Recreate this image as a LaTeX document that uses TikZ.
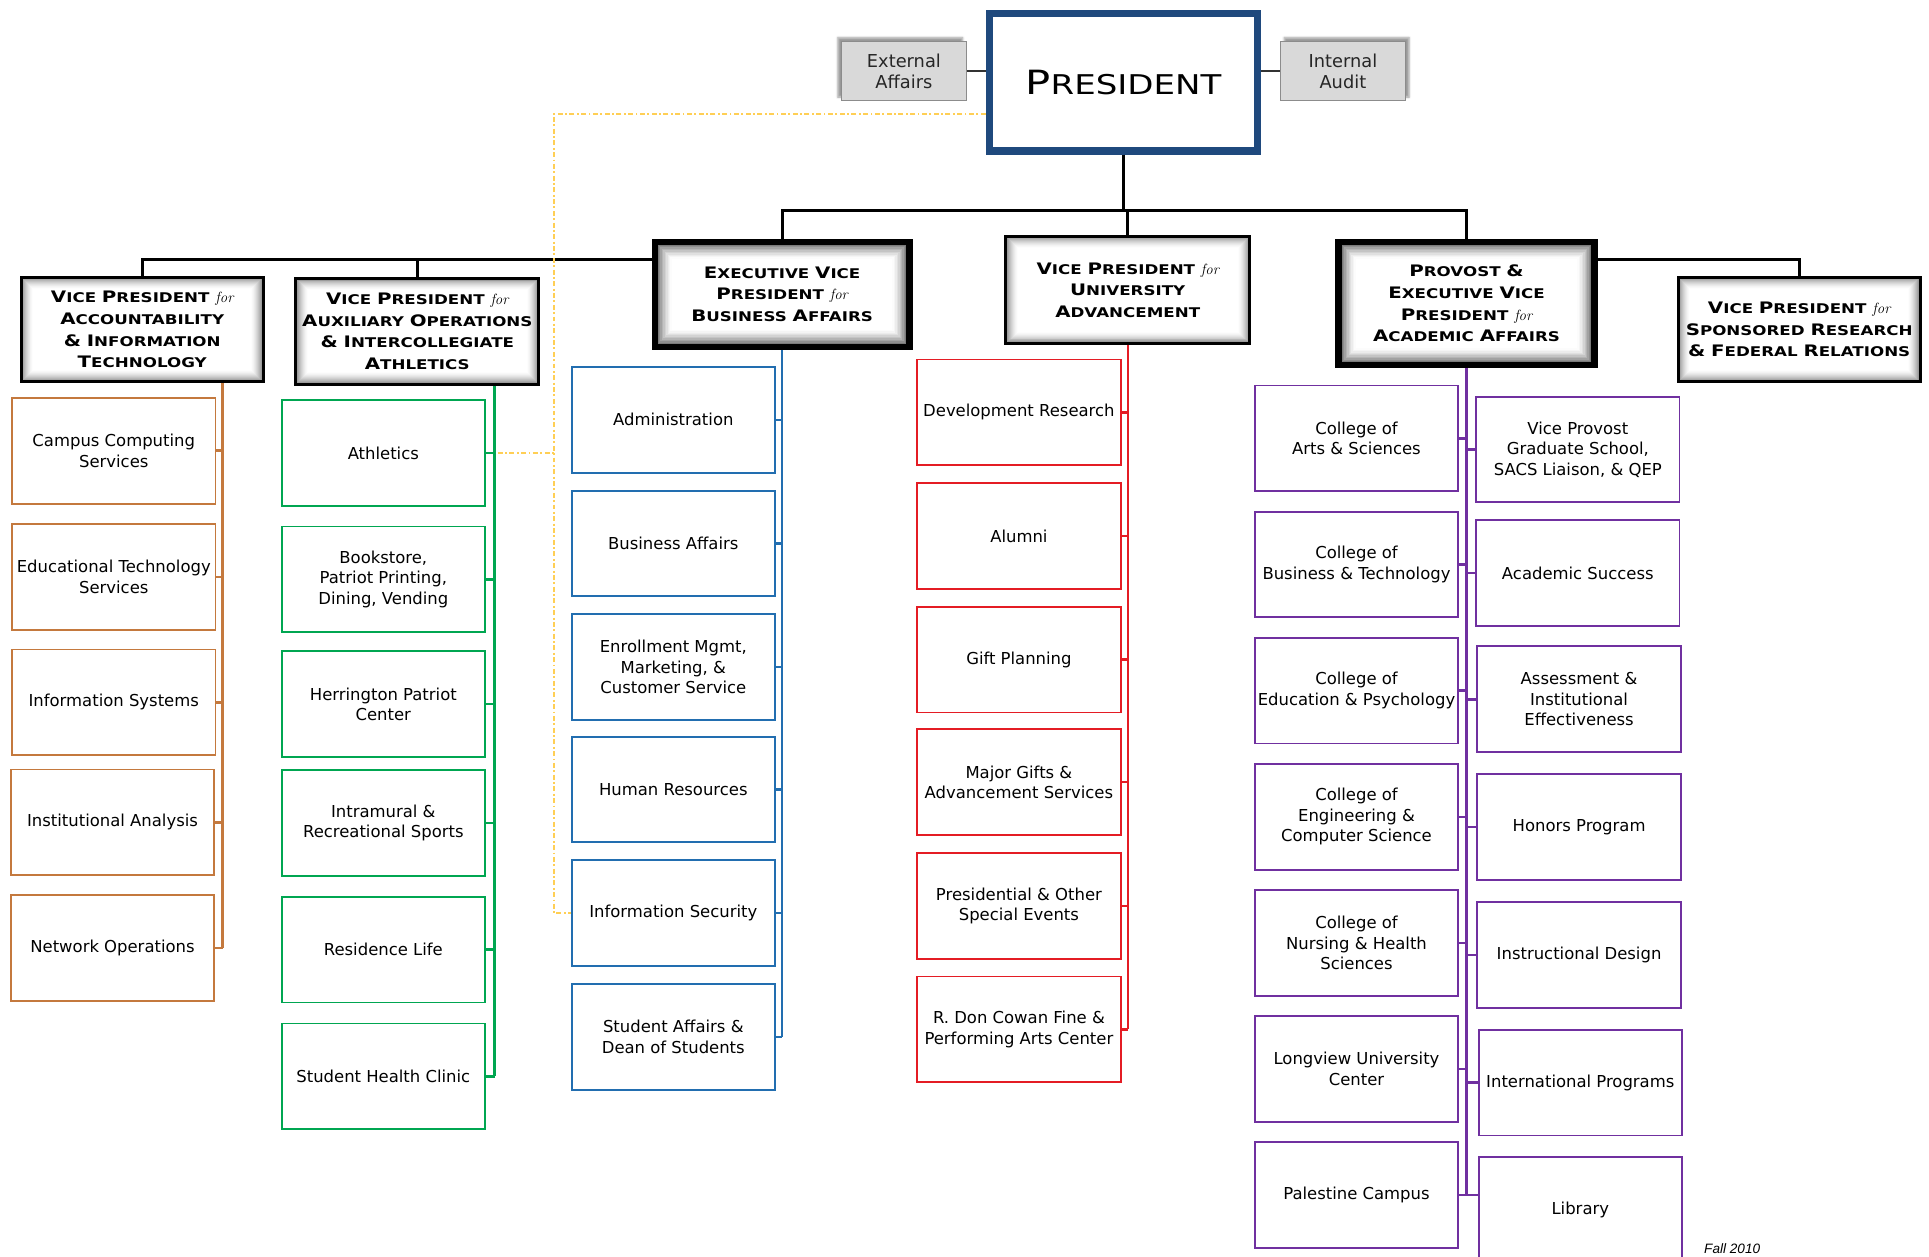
\documentclass[tikz,border=0pt]{standalone}
\usepackage{fontspec}
\usepackage{tikz}
\usetikzlibrary{shapes,positioning,shadows,shadows.blur}
\newfontfamily\boxfont{DejaVu Sans}
\newfontfamily\capfont[FakeStretch=1.25]{DejaVu Sans}
\newfontfamily\notefont{Liberation Sans}
\definecolor{presblue}{RGB}{31,73,125}
\definecolor{aitorange}{RGB}{196,121,62}
\definecolor{auxgreen}{RGB}{0,166,81}
\definecolor{bablue}{RGB}{34,110,176}
\definecolor{uared}{RGB}{228,28,36}
\definecolor{aapurple}{RGB}{112,48,160}
\definecolor{liaisongold}{RGB}{255,207,85}
\definecolor{sidegray}{RGB}{217,217,217}
\newcommand\bcap[1]{{\fontsize{12.8}{17.5}\selectfont #1}}
\newcommand\vpfor{{\rmfamily\mdseries\itshape\fontsize{12}{17.5}\selectfont for}}

\tikzset{
  bevel/.style 2 args={path picture={
      \foreach \k [evaluate=\k as \g using #1*(1-\k/12)^1.6] in {0,...,12}
        \fill[black!\g] ([shift={(\k*#2,\k*#2)}]path picture bounding box.south west)
          rectangle ([shift={(-\k*#2,-\k*#2)}]path picture bounding box.north east);}},
  title/.style={draw, line width=2.5pt, fill=white, align=center, inner sep=2pt,
      font=\capfont\bfseries\fontsize{10.8}{17.5}\selectfont, bevel={45}{0.8pt}},
  bigtitle/.style={title, line width=5pt, bevel={70}{1.15pt}},
  sidebox/.style={draw=black!45, fill=sidegray, line width=0.8pt, align=center,
      minimum width=101pt, minimum height=48pt, text=black!85,
      font=\boxfont\fontsize{14.4}{17}\selectfont},
  unit/.style={draw=#1, line width=1.5pt, fill=white, align=center, inner sep=1pt,
      minimum width=164.5pt, minimum height=85.5pt,
      font=\boxfont\fontsize{13.3}{16.5}\selectfont},
  branch/.style={draw=#1, line width=2pt},
  link/.style={draw=black, line width=2.5pt},
  sidelink/.style={draw=black!80, line width=1.2pt},
  liaison/.style={draw=liaisongold, line width=1.8pt, dash pattern=on 4pt off 2pt on 1.5pt off 2pt}
}

\begin{document}
\begin{tikzpicture}[x=1pt, y=-1pt]
\useasboundingbox (0,0) rectangle (1560,1016);

% top of the chart
\node[draw=presblue, line width=6pt, fill=white, minimum width=217pt, minimum height=111pt,
      font=\capfont\fontsize{22}{26}\selectfont] (president) at (908.5,66.5)
      {{\fontsize{27}{30}\selectfont P}RESIDENT};
\node[sidebox, blur shadow={shadow xshift=-3pt, shadow yshift=3pt}] (extaff) at (731,57.5) {External\\Affairs};
\node[sidebox, blur shadow={shadow xshift=3pt, shadow yshift=3pt}] (intaud) at (1086,57.5) {Internal\\Audit};

% vice presidents
\node[title, minimum width=195.5pt, minimum height=84.5pt] (vpait) at (115,266.5)
  {\bcap{V}ICE \bcap{P}RESIDENT \vpfor\\ \bcap{A}CCOUNTABILITY\\ \bcap{\&} \bcap{I}NFORMATION\\ \bcap{T}ECHNOLOGY};
\node[title, minimum width=196.5pt, minimum height=85.5pt] (vpaux) at (337.5,268)
  {\bcap{V}ICE \bcap{P}RESIDENT \vpfor\\ \bcap{A}UXILIARY \bcap{O}PERATIONS\\ \bcap{\&} \bcap{I}NTERCOLLEGIATE\\ \bcap{A}THLETICS};
\node[bigtitle, minimum width=206pt, minimum height=85pt] (evpba) at (632.5,238)
  {\bcap{E}XECUTIVE \bcap{V}ICE\\ \bcap{P}RESIDENT \vpfor\\ \bcap{B}USINESS \bcap{A}FFAIRS};
\node[title, minimum width=197.5pt, minimum height=86.5pt] (vpua) at (912,234.5)
  {\bcap{V}ICE \bcap{P}RESIDENT \vpfor\\ \bcap{U}NIVERSITY\\ \bcap{A}DVANCEMENT};
\node[bigtitle, minimum width=207pt, minimum height=100pt] (provost) at (1186,245.5)
  {\bcap{P}ROVOST \bcap{\&}\\ \bcap{E}XECUTIVE \bcap{V}ICE\\ \bcap{P}RESIDENT \vpfor\\ \bcap{A}CADEMIC \bcap{A}FFAIRS};
\node[title, minimum width=195.5pt, minimum height=84.5pt] (vpsr) at (1455,266.5)
  {\bcap{V}ICE \bcap{P}RESIDENT \vpfor\\ \bcap{S}PONSORED \bcap{R}ESEARCH\\ \bcap{\&} \bcap{F}EDERAL \bcap{R}ELATIONS};

% accountability & IT
\node[unit=aitorange] (ccs) at (92,364.5) {Campus Computing\\Services};
\node[unit=aitorange] (ets) at (92,466.5) {Educational Technology\\Services};
\node[unit=aitorange] (isys) at (92,568) {Information Systems};
\node[unit=aitorange] (ia) at (91,665) {Institutional Analysis};
\node[unit=aitorange] (netops) at (91,766.5) {Network Operations};

% auxiliary operations
\node[unit=auxgreen] (athl) at (310,366.5) {Athletics};
\node[unit=auxgreen] (books) at (310,468.5) {Bookstore,\\Patriot Printing,\\Dining, Vending};
\node[unit=auxgreen] (hpc) at (310,569.5) {Herrington Patriot\\Center};
\node[unit=auxgreen] (irs) at (310,665.5) {Intramural \&\\Recreational Sports};
\node[unit=auxgreen] (reslife) at (310,768) {Residence Life};
\node[unit=auxgreen] (shc) at (310,870.5) {Student Health Clinic};

% business affairs
\node[unit=bablue] (admin) at (544.5,339.5) {Administration};
\node[unit=bablue] (busaff) at (544.5,439.5) {Business Affairs};
\node[unit=bablue] (enroll) at (544.5,539.5) {Enrollment Mgmt,\\Marketing, \&\\Customer Service};
\node[unit=bablue] (hr) at (544.5,638.5) {Human Resources};
\node[unit=bablue] (infosec) at (544.5,738.5) {Information Security};
\node[unit=bablue] (stuaff) at (544.5,838.5) {Student Affairs \&\\Dean of Students};

% university advancement
\node[unit=uared] (devres) at (824,333.5) {Development Research};
\node[unit=uared] (alumni) at (824,433.5) {Alumni};
\node[unit=uared] (giftp) at (824,533.5) {Gift Planning};
\node[unit=uared] (majg) at (824,632.5) {Major Gifts \&\\Advancement Services};
\node[unit=uared] (presev) at (824,732.5) {Presidential \& Other\\Special Events};
\node[unit=uared] (cowan) at (824,832.5) {R. Don Cowan Fine \&\\Performing Arts Center};

% academic affairs
\node[unit=aapurple] (artsci) at (1097,354.5) {College of\\Arts \& Sciences};
\node[unit=aapurple] (bustech) at (1097,456.5) {College of\\Business \& Technology};
\node[unit=aapurple] (edpsy) at (1097,558.5) {College of\\Education \& Psychology};
\node[unit=aapurple] (engcs) at (1097,660.5) {College of\\Engineering \&\\Computer Science};
\node[unit=aapurple] (nurs) at (1097,762.5) {College of\\Nursing \& Health\\Sciences};
\node[unit=aapurple] (longv) at (1097,864.5) {Longview University\\Center};
\node[unit=aapurple] (pal) at (1097,966.5) {Palestine Campus};
\node[unit=aapurple] (vpgrad) at (1276,363.5) {Vice Provost\\Graduate School,\\SACS Liaison, \& QEP};
\node[unit=aapurple] (acsucc) at (1276,463.5) {Academic Success};
\node[unit=aapurple] (assess) at (1277,565.5) {Assessment \&\\Institutional\\Effectiveness};
\node[unit=aapurple] (honors) at (1277,669) {Honors Program};
\node[unit=aapurple] (instd) at (1277,772.5) {Instructional Design};
\node[unit=aapurple] (intl) at (1278,875.5) {International Programs};
\node[unit=aapurple] (lib) at (1278,978.5) {Library};

\node[font=\notefont\itshape\fontsize{11}{13}\selectfont, anchor=base west, inner sep=0pt] (season) at (1378,1014) {Fall 2010};

% lines from the president
\coordinate (hub) at (909,170);
\coordinate (wlink) at (500,210);
\coordinate (lcorner) at (448,92);
\draw[sidelink] (extaff.east) -- (extaff.east -| president.west);
\draw[sidelink] (intaud.west) -- (intaud.west -| president.east);
\draw[link] (president.south) -- (president.south |- hub);
\draw[link] (evpba.north) |- (hub) -| (provost.north);
\draw[link] (vpua.north) -- (vpua.north |- hub);
\draw[link] (evpba.west |- wlink) -| (vpait.north);
\draw[link] (vpaux.north) -- (vpaux.north |- wlink);
\draw[link] (provost.east |- wlink) -| (vpsr.north);

% dotted liaison to athletics and security
\draw[liaison] (president.west |- lcorner) -- (lcorner) |- (infosec.west);
\draw[liaison] (athl.east) -- (athl.east -| lcorner);

% branches
\coordinate (aitbus) at (180,310);
\draw[branch=aitorange] (aitbus) -- (aitbus |- netops.east);
\foreach \n in {ccs,ets,isys,ia,netops}
  \draw[branch=aitorange] (\n.east) -- (\n.east -| aitbus);
\coordinate (auxbus) at (400,312);
\draw[branch=auxgreen] (auxbus) -- (auxbus |- shc.east);
\foreach \n in {athl,books,hpc,irs,reslife,shc}
  \draw[branch=auxgreen] (\n.east) -- (\n.east -| auxbus);
\draw[branch=bablue] (evpba.south) -- (evpba.south |- stuaff.east);
\foreach \n in {admin,busaff,enroll,hr,infosec,stuaff}
  \draw[branch=bablue] (\n.east) -- (\n.east -| evpba.south);
\draw[branch=uared] (vpua.south) -- (vpua.south |- cowan.east);
\foreach \n in {devres,alumni,giftp,majg,presev,cowan}
  \draw[branch=uared] (\n.east) -- (\n.east -| vpua.south);
\draw[branch=aapurple] (provost.south) -- (provost.south |- pal.east);
\foreach \n in {artsci,bustech,edpsy,engcs,nurs,longv,pal}
  \draw[branch=aapurple] (\n.east) -- (\n.east -| provost.south);
\foreach \n in {vpgrad,acsucc,assess,honors,instd,intl}
  \draw[branch=aapurple] (\n.west) -- (\n.west -| provost.south);
\draw[branch=aapurple] (provost.south |- pal.east) -- (lib.west |- pal.east);
\end{tikzpicture}
\end{document}
